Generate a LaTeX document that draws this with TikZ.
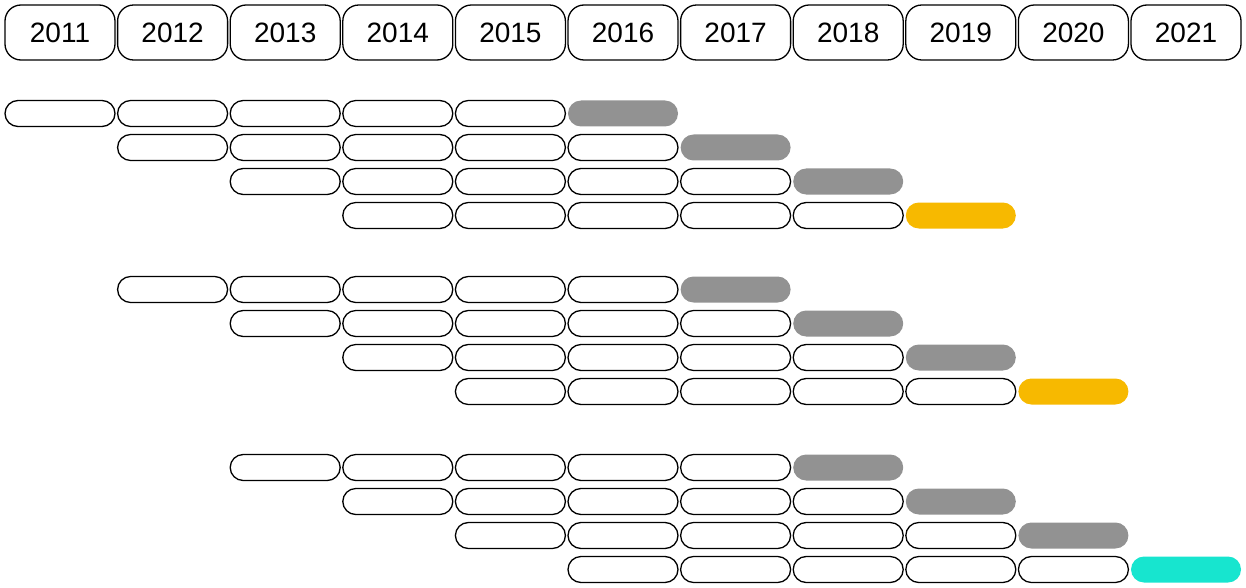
\documentclass[tikz,border=0pt]{standalone}
\usepackage{fontspec}
\setmainfont{Liberation Sans}
\usetikzlibrary{positioning}
\definecolor{pillgray}{HTML}{929292}
\definecolor{pillgold}{HTML}{F7B900}
\definecolor{pillteal}{HTML}{17E5CF}

\begin{document}
\begin{tikzpicture}[
  x=1pt, y=-1pt,
  year/.style={draw, line width=1.3pt, rounded corners=16pt, inner sep=0pt,
               minimum width=110pt, minimum height=55pt,
               font=\fontsize{28}{32}\selectfont},
  pill/.style={draw, line width=1.3pt, rounded corners=13pt, inner sep=0pt,
               minimum width=110pt, minimum height=26pt},
  done/.style={pill, draw=none}
]
\useasboundingbox (0,0) rectangle (1246,588);

% Year header
\foreach \c in {0,...,10} {
  \pgfmathtruncatemacro{\yr}{2011+\c}
  \node[year] (y\yr) at (60+112.6*\c, 32.5) {\yr};
}

% Three groups of four staggered rows: five open pills, then a filled one
\foreach \g/\gy/\lastcol in {0/113.5/pillgold, 1/289.5/pillgold, 2/467.5/pillteal} {
  \foreach \r in {0,...,3} {
    \foreach \k in {0,...,4} {
      \pgfmathtruncatemacro{\c}{\g+\r+\k}
      \node[pill] (p\g-\r-\k) at (60+112.6*\c, \gy+34*\r) {};
    }
    \pgfmathtruncatemacro{\c}{\g+\r+5}
    \ifnum\r=3 \edef\tip{\lastcol}\else\def\tip{pillgray}\fi
    \node[done, fill=\tip] (p\g-\r-5) at (60+112.6*\c, \gy+34*\r) {};
  }
}

\end{tikzpicture}
\end{document}
